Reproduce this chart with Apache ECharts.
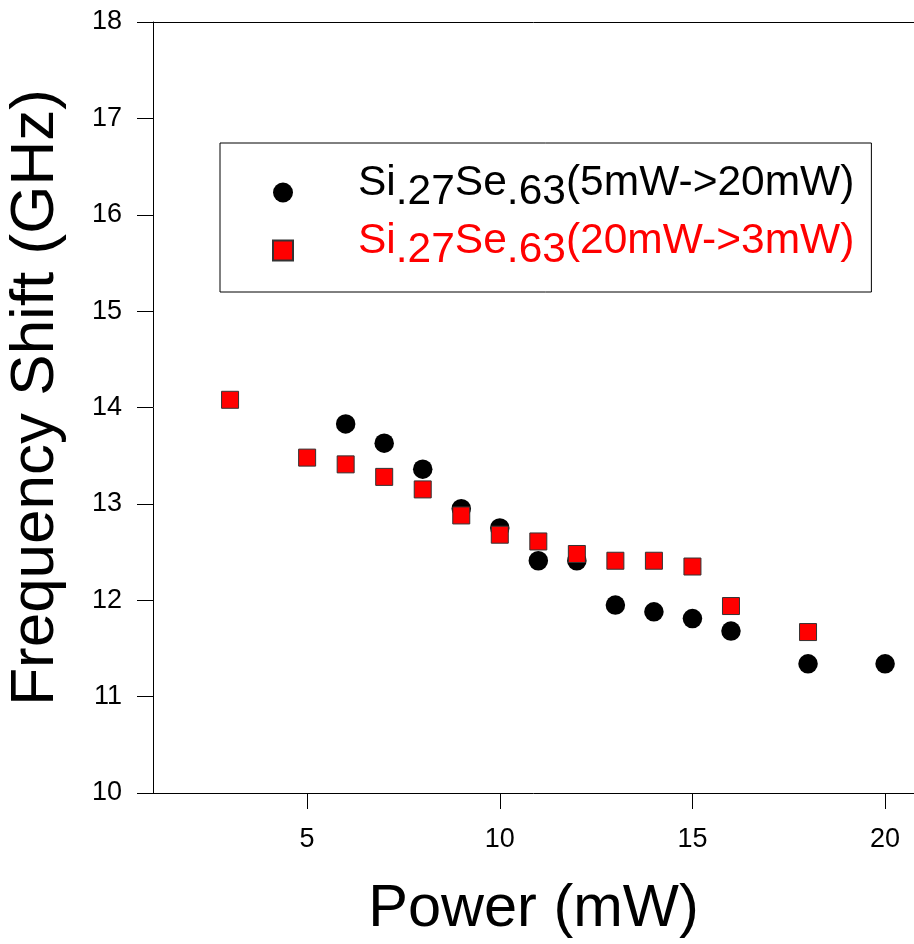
<!DOCTYPE html>
<html><head><meta charset="utf-8">
<script src="https://cdn.jsdelivr.net/npm/echarts@6/dist/echarts.min.js"></script>
<style>html,body{margin:0;padding:0;background:#fff}#c{width:914px;height:944px}</style>
</head><body><div id="c"></div>
<script>
// Data
const heatingPower = [6, 7, 8, 9, 10, 11, 12, 13, 14, 15, 16, 18, 20];
const heatingShift = [13.83, 13.63, 13.36, 12.95, 12.75, 12.41, 12.41, 11.95, 11.88, 11.81, 11.68, 11.34, 11.34];
const coolingPower = [3, 5, 6, 7, 8, 9, 10, 11, 12, 13, 14, 15, 16, 18];
const coolingShift = [14.08, 13.48, 13.41, 13.28, 13.15, 12.88, 12.68, 12.61, 12.48, 12.41, 12.41, 12.35, 11.94, 11.67];
const xTickValues = [5, 10, 15, 20];
const yTickValues = [10, 11, 12, 13, 14, 15, 16, 17, 18];
const heatingNameParts = ['Si', '.27', 'Se', '.63', '(5mW->20mW)'];
const coolingNameParts = ['Si', '.27', 'Se', '.63', '(20mW->3mW)'];
const xTitle = 'Power (mW)';
const yTitle = 'Frequency Shift (GHz)';

const heatingName = heatingNameParts.join('');
const coolingName = coolingNameParts.join('');
const FONT = "'Liberation Sans', Arial, Helvetica, sans-serif";
const X_MIN = 1, X_MAX = 20.75;

function richName(parts, p) {
  return '{' + p + '0|' + parts[0] + '}{' + p + 's|' + parts[1] + '}{' + p + 'm|' + parts[2] + '}{' + p + 's|' + parts[3] + '}{' + p + 'm|' + parts[4] + '}';
}
function richStyles(p, color) {
  const base = {fontSize: 42.5, fontFamily: FONT, color: color, lineHeight: 50};
  const o = {};
  o[p + '0'] = Object.assign({}, base, {padding: [0, 0, 18, 60]});
  o[p + 'm'] = Object.assign({}, base, {padding: [0, 0, 18, 0]});
  o[p + 's'] = Object.assign({}, base, {padding: [0, 0, 0, 0]});
  return o;
}

const chart = echarts.init(document.getElementById('c'), null, {renderer: 'canvas'});
chart.setOption({
  animation: false,
  backgroundColor: '#fff',
  grid: {left: 153, right: 0, top: 22, bottom: 151, show: false, containLabel: false, outerBoundsMode: 'none'},
  legend: {
    orient: 'vertical', left: 220, top: 143,
    itemWidth: 20, itemHeight: 20, itemGap: -3,
    padding: [19, 17, 11, 52],
    borderColor: '#000', borderWidth: 1, backgroundColor: '#fff',
    selectedMode: false,
    data: [{name: heatingName, icon: 'circle'}, {name: coolingName, icon: 'rect'}],
    formatter: function (name) {
      return name === heatingName ? richName(heatingNameParts, 'k') : richName(coolingNameParts, 'r');
    },
    textStyle: {fontSize: 42.5, fontFamily: FONT, lineHeight: 50, rich: Object.assign({}, richStyles('k', '#000'), richStyles('r', '#ff0000'))}
  },
  xAxis: [{
    type: 'value', min: X_MIN, max: X_MAX,
    name: xTitle, nameLocation: 'middle', nameGap: 87,
    nameTextStyle: {fontSize: 59.5, fontFamily: FONT, color: '#000'},
    axisLine: {show: true, lineStyle: {color: '#000', width: 1}},
    axisTick: {show: true, inside: false, length: 16, lineStyle: {color: '#000'}, customValues: xTickValues},
    axisLabel: {fontSize: 27, fontFamily: FONT, color: '#000', margin: 33, customValues: xTickValues},
    splitLine: {show: false}
  }, {
    type: 'value', position: 'top', min: X_MIN, max: X_MAX,
    axisLine: {show: true, lineStyle: {color: '#000', width: 1}},
    axisTick: {show: false}, axisLabel: {show: false}, splitLine: {show: false}
  }],
  yAxis: {
    type: 'value', min: 10, max: 18, interval: 1,
    name: yTitle, nameLocation: 'middle', nameGap: 86,
    nameTextStyle: {fontSize: 62, fontFamily: FONT, color: '#000', padding: [0, 0, 0, 20]},
    axisLine: {show: true, lineStyle: {color: '#000', width: 1}},
    axisTick: {show: true, inside: false, length: 16, lineStyle: {color: '#000'}, customValues: yTickValues},
    axisLabel: {fontSize: 27, fontFamily: FONT, color: '#000', margin: 31, customValues: yTickValues},
    splitLine: {show: false}
  },
  series: [
    {
      name: heatingName, type: 'scatter', symbol: 'circle', symbolSize: 19.5,
      itemStyle: {color: '#000', opacity: 1},
      data: heatingPower.map((x, i) => [x, heatingShift[i]]),
      z: 2
    },
    {
      name: coolingName, type: 'scatter', symbol: 'rect', symbolSize: 17,
      itemStyle: {color: '#ff0000', borderColor: '#333', borderWidth: 1, opacity: 1},
      data: coolingPower.map((x, i) => [x, coolingShift[i]]),
      z: 3
    }
  ]
});
</script>
</body></html>
